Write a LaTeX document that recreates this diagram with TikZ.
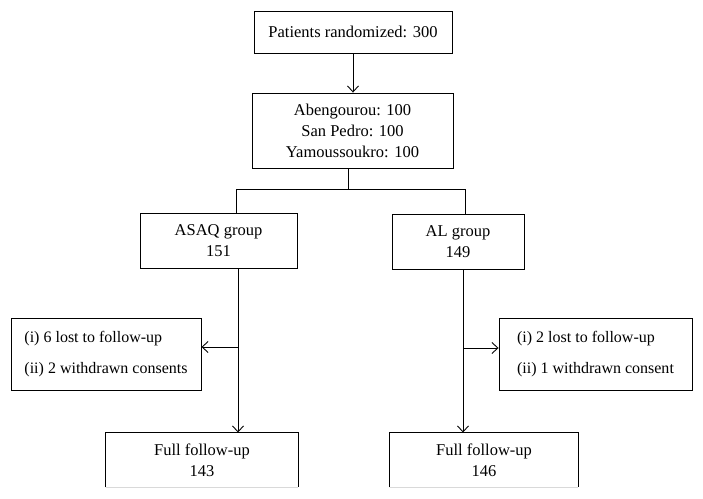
\documentclass[tikz,border=0pt]{standalone}
\usepackage{fontspec}
\setmainfont{Liberation Serif}
\usetikzlibrary{arrows.meta}

\begin{document}
\begin{tikzpicture}[x=1pt,y=-1pt,line width=0.9pt,
        >={Straight Barb[length=6pt,width=11pt]},
        box/.style={draw,align=center,inner sep=0pt,font=\fontsize{16.5}{21}\selectfont},
        lossbox/.style={draw,align=left,inner xsep=6pt,minimum height=72pt,
            font=\fontsize{16}{31}\selectfont}]

        \useasboundingbox (0,0) rectangle (703,498);

        % Randomization and sites
        \node[box,minimum width=198pt,minimum height=42pt] (top) at (353,32) {Patients randomized: 300};
        \node[box,minimum width=201pt,minimum height=75pt] (sites) at (352.5,130.5)
            {Abengourou: 100\\San Pedro: 100\\Yamoussoukro: 100};
        \draw[->] (top.south) -- (top.south |- sites.north);

        % Treatment groups
        \node[box,minimum width=157pt,minimum height=55pt] (asaq) at (218.5,240.5) {ASAQ group\\151};
        \node[box,minimum width=132pt,minimum height=55pt] (al) at (458,241.5) {AL group\\149};

        % Split line
        \coordinate (split) at (348,189);
        \coordinate (forkL) at (236,189);
        \coordinate (forkR) at (465,189);
        \draw (split |- sites.south) -- (split);
        \draw (forkL |- asaq.north) -- (forkL) -- (forkR) -- (forkR |- al.north);

        % Losses
        \node[lossbox,minimum width=190pt] (lossL) at (106,354) {(i) 6 lost to follow-up\\(ii) 2 withdrawn consents};
        \node[lossbox,minimum width=193pt] (lossR) at (595.5,354) {(i) 2 lost to follow-up\\(ii) 1 withdrawn consent};

        % Full follow-up (cut at the bottom)
        \node[box,draw=none,minimum width=192pt,minimum height=54pt] (fullL) at (202,460) {Full follow-up\\143};
        \node[box,draw=none,minimum width=188pt,minimum height=54pt] (fullR) at (484,460) {Full follow-up\\146};
        \foreach \f in {fullL,fullR} {
            \draw (\f.south west) -- (\f.north west) -- (\f.north east) -- (\f.south east);
            \draw[black!15,line width=0.6pt] (\f.south west) -- (\f.south east);
        }

        % Follow-up arrows
        \coordinate (armL) at (238,347);
        \coordinate (armR) at (463,348);
        \draw[->] (armL |- asaq.south) -- (armL |- fullL.north);
        \draw[->] (armL) -- (armL -| lossL.east);
        \draw[->] (armR |- al.south) -- (armR |- fullR.north);
        \draw[->] (armR) -- (armR -| lossR.west);

    \end{tikzpicture}
\end{document}
